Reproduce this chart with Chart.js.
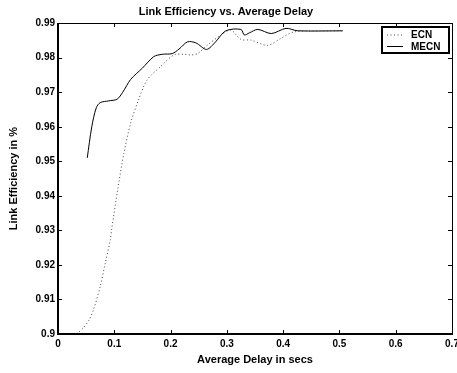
<!DOCTYPE html>
<html>
<head>
<meta charset="utf-8">
<script src="https://cdn.jsdelivr.net/npm/chart.js@4.4.1/dist/chart.umd.min.js"></script>
<style>
  html, body { margin: 0; padding: 0; background: #fff; }
  #wrap { width: 457px; height: 373px; }
</style>
</head>
<body>
<div id="wrap"><canvas id="chart"></canvas></div>
<script>
// values
var ecnDelay = [0.033, 0.045, 0.055, 0.063, 0.075, 0.084, 0.093, 0.0955, 0.106, 0.117, 0.129, 0.143, 0.158, 0.182, 0.206, 0.225, 0.236, 0.248, 0.265, 0.289, 0.307, 0.325, 0.343, 0.372, 0.396, 0.42, 0.506];
var ecnEff   = [0.900, 0.9018, 0.904, 0.907, 0.9138, 0.9205, 0.9273, 0.9305, 0.9417, 0.9523, 0.961, 0.9678, 0.9735, 0.9774, 0.9808, 0.981, 0.9808, 0.9812, 0.9836, 0.9865, 0.988, 0.9853, 0.9851, 0.9836, 0.9856, 0.9875, 0.9878];

var mecnDelay = [0.052, 0.060, 0.068, 0.075, 0.090, 0.105, 0.115, 0.129, 0.150, 0.170, 0.185, 0.203, 0.215, 0.230, 0.245, 0.264, 0.280, 0.298, 0.325, 0.331, 0.340, 0.355, 0.379, 0.405, 0.426, 0.506];
var mecnEff   = [0.951, 0.960, 0.9655, 0.967, 0.9675, 0.968, 0.970, 0.9737, 0.977, 0.9803, 0.981, 0.9812, 0.9825, 0.9846, 0.9843, 0.9824, 0.9846, 0.9878, 0.9882, 0.9866, 0.9872, 0.9882, 0.987, 0.9885, 0.9878, 0.9878];

var seriesNames = ['ECN', 'MECN'];
var xTickMin = 0, xTickMax = 0.7, xStep = 0.1;
var yTickMin = 0.9, yTickMax = 0.99, yStep = 0.01;

function toPoints(xs, ys) {
  return xs.map(function(x, i) { return { x: x, y: ys[i] }; });
}

function fmt(v) {
  return String(Number(v.toFixed(2)));
}

var FONT = '"Liberation Sans", Arial, Helvetica, sans-serif';

// box frame, inward ticks on all sides, legend
var framePlugin = {
  id: 'frame',
  afterDraw: function(chart) {
    var ctx = chart.ctx;
    var a = chart.chartArea;
    var xs = chart.scales.x, ys = chart.scales.y;
    var L = Math.round(a.left), R = Math.round(a.right);
    var T = Math.round(a.top), B = Math.round(a.bottom);
    ctx.save();
    ctx.strokeStyle = '#000';
    // thin top and right
    ctx.lineWidth = 1;
    ctx.beginPath();
    ctx.moveTo(L, T + 0.5); ctx.lineTo(R + 0.5, T + 0.5); ctx.lineTo(R + 0.5, B);
    ctx.stroke();
    // heavier left and bottom
    ctx.lineWidth = 2;
    ctx.beginPath();
    ctx.moveTo(L, T); ctx.lineTo(L, B); ctx.lineTo(R + 1, B);
    ctx.stroke();

    var len = 4;
    ctx.lineWidth = 1;
    ctx.beginPath();
    xs.ticks.forEach(function(t) {
      var px = Math.round(xs.getPixelForValue(t.value)) + 0.5;
      ctx.moveTo(px, B); ctx.lineTo(px, B - len);
      ctx.moveTo(px, T); ctx.lineTo(px, T + len);
    });
    ys.ticks.forEach(function(t) {
      var py = Math.round(ys.getPixelForValue(t.value)) + 0.5;
      ctx.moveTo(L, py); ctx.lineTo(L + len, py);
      ctx.moveTo(R, py); ctx.lineTo(R - len, py);
    });
    ctx.stroke();

    // legend box
    var bx = 382, by = 27, bw = 67, bh = 26;
    ctx.fillStyle = '#fff';
    ctx.fillRect(bx, by, bw, bh);
    ctx.lineWidth = 2;
    ctx.strokeRect(bx, by, bw, bh);
    ctx.font = 'bold 10px ' + FONT;
    ctx.textBaseline = 'middle';
    ctx.fillStyle = '#000';
    chart.data.datasets.forEach(function(ds, i) {
      var ly = by + 8 + i * 11.5;
      ctx.beginPath();
      ctx.lineWidth = 1;
      ctx.strokeStyle = ds.borderColor;
      ctx.setLineDash(ds.borderDash || []);
      ctx.moveTo(bx + 5, ly); ctx.lineTo(bx + 21, ly);
      ctx.stroke();
      ctx.setLineDash([]);
      ctx.fillText(ds.label, bx + 29, ly + 0.5);
    });
    ctx.restore();
  }
};

var ctx = document.getElementById('chart').getContext('2d');
var chart = new Chart(ctx, {
  type: 'line',
  data: {
    datasets: [{
      label: seriesNames[0],
      data: toPoints(ecnDelay, ecnEff),
      borderColor: '#444',
      borderWidth: 1,
      borderDash: [1, 2.5],
      pointRadius: 0,
      tension: 0.3,
      fill: false
    }, {
      label: seriesNames[1],
      data: toPoints(mecnDelay, mecnEff),
      borderColor: '#000',
      borderWidth: 1,
      pointRadius: 0,
      tension: 0.3,
      fill: false
    }]
  },
  options: {
    responsive: true,
    maintainAspectRatio: false,
    animation: false,
    layout: { padding: { left: 0, right: 5, top: 0, bottom: 6 } },
    plugins: {
      legend: { display: false },
      tooltip: { enabled: false },
      title: {
        display: true,
        text: 'Link Efficiency vs. Average Delay',
        color: '#000',
        font: { family: FONT, size: 11, weight: 'bold' },
        padding: { top: 5, bottom: 5 }
      }
    },
    scales: {
      x: {
        type: 'linear',
        min: xTickMin,
        max: xTickMax,
        ticks: {
          stepSize: xStep,
          color: '#000',
          font: { family: FONT, size: 10, weight: 'bold' },
          padding: 4,
          maxRotation: 0,
          callback: function(v) { return fmt(v); }
        },
        grid: { display: false, drawTicks: false },
        border: { display: false },
        title: {
          display: true,
          text: 'Average Delay in secs',
          color: '#000',
          font: { family: FONT, size: 11, weight: 'bold' },
          padding: { top: 4, bottom: 0 }
        },
        afterFit: function(s) {
          s.height = 33;
          s.paddingLeft = 0; s.paddingRight = 0;
        }
      },
      y: {
        min: yTickMin,
        max: yTickMax,
        ticks: {
          stepSize: yStep,
          color: '#000',
          font: { family: FONT, size: 10, weight: 'bold' },
          padding: 3,
          callback: function(v) { return fmt(v); }
        },
        grid: { display: false, drawTicks: false },
        border: { display: false },
        title: {
          display: true,
          text: 'Link Efficiency in %',
          color: '#000',
          font: { family: FONT, size: 11, weight: 'bold' },
          padding: { top: 7, bottom: 4 }
        },
        afterFit: function(s) {
          s.width = 58;
          s.paddingTop = 0; s.paddingBottom = 0;
        }
      }
    }
  },
  plugins: [framePlugin]
});
</script>
</body>
</html>
